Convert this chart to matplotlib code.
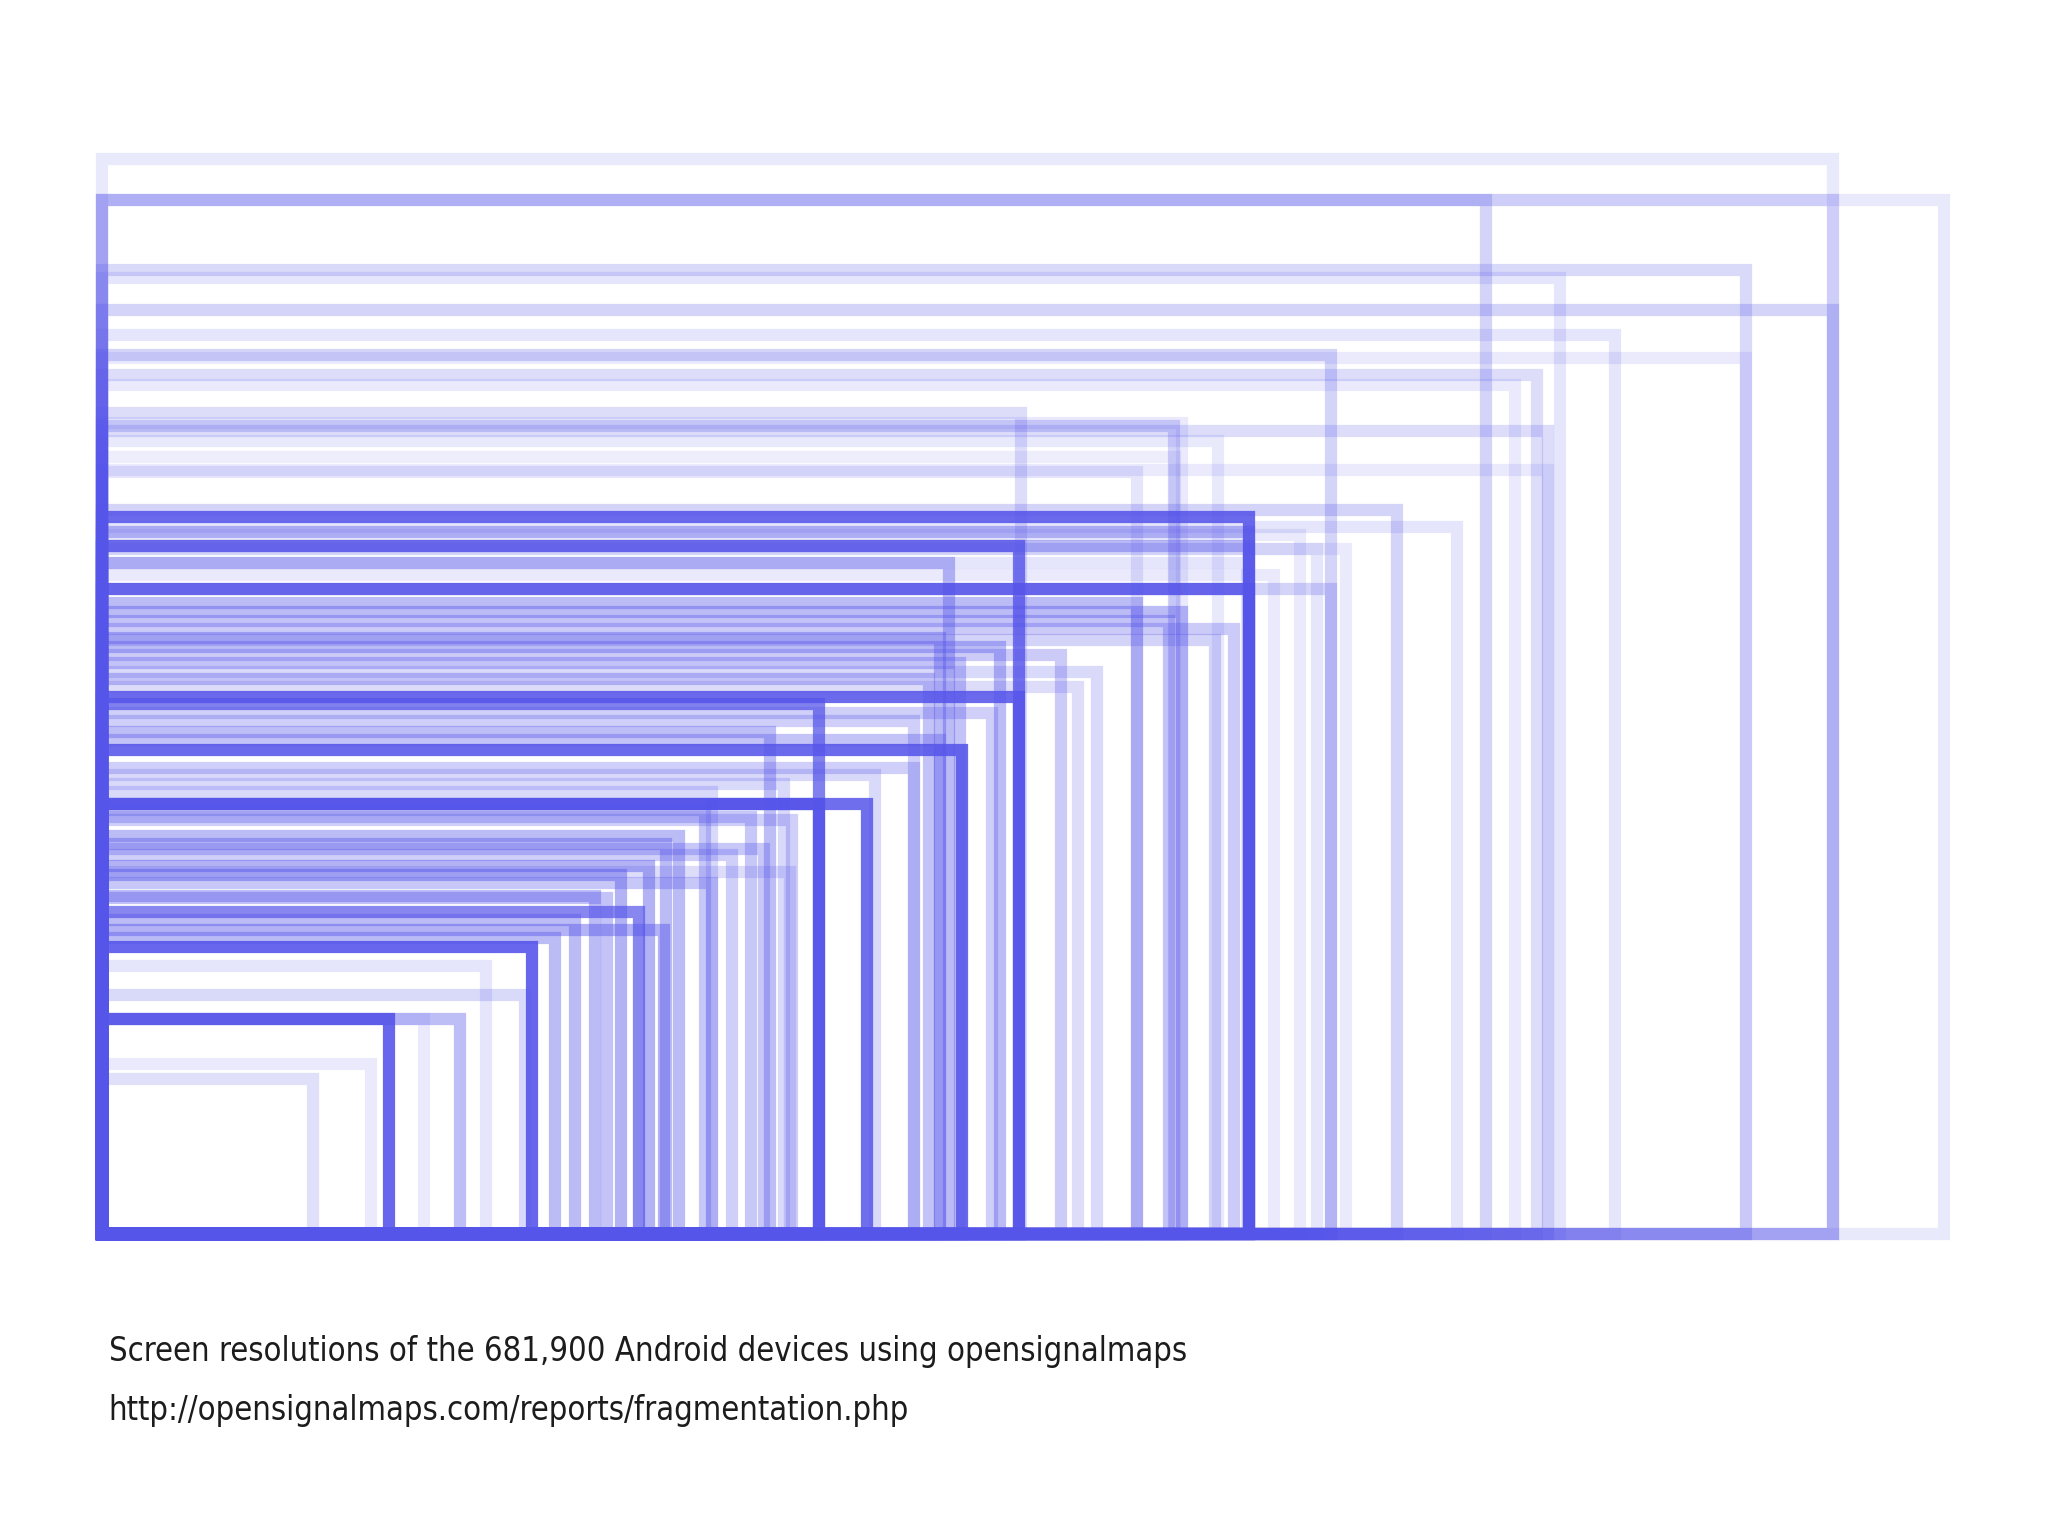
"""Screen resolution fragmentation

Draws every Android screen resolution as an outline anchored at the
bottom left corner; the more devices use a resolution, the more opaque
its outline.
"""

import matplotlib
matplotlib.use("Agg")
import matplotlib.pyplot as plt
from matplotlib.patches import Rectangle


# landscape screen sizes in pixels
widths = [
    1932, 2056, 1932, 1545, 1835, 1628, 1932, 1689, 1835, 1372,
    1602, 1577, 1026, 1197, 1614, 1246, 1206, 1614, 1155, 1446,
    1512, 1280, 1280, 1024, 1280, 946, 1278, 1280, 1372, 1155,
    1206, 1191, 1264, 936, 1242, 1003, 1070, 958, 1111, 923,
    1089, 1024, 800, 994, 907, 746, 936, 960, 907, 863,
    761, 681, 800, 854, 644, 630, 739, 703, 611, 579,
    681, 550, 600, 528, 627, 506, 564, 768, 480, 429,
    472, 400, 320, 360, 300, 236, 1308, 1337, 1356, 1389,
    673, 724, 770, 1198,
]
heights = [
    1200, 1154, 1154, 1154, 1076, 1067, 1032, 1004, 978, 981,
    959, 948, 917, 902, 896, 885, 905, 853, 851, 808,
    789, 800, 784, 768, 768, 749, 749, 720, 720, 704,
    695, 684, 675, 666, 663, 655, 646, 637, 628, 620,
    611, 600, 592, 582, 573, 561, 552, 540, 520, 512,
    503, 494, 480, 480, 445, 436, 430, 423, 411, 401,
    392, 378, 360, 351, 340, 331, 375, 404, 320, 299,
    267, 240, 240, 240, 190, 173, 736, 780, 765, 765,
    474, 466, 462, 867,
]
# relative share of devices, drawn as outline opacity
share = [
    0.13, 0.13, 0.18, 0.25, 0.22, 0.15, 0.25, 0.15, 0.12, 0.25,
    0.20, 0.12, 0.20, 0.25, 0.20, 0.13, 0.12, 0.12, 0.15, 0.25,
    0.15, 0.88, 0.40, 0.80, 0.40, 0.40, 0.15, 0.88, 0.25, 0.40,
    0.40, 0.35, 0.30, 0.40, 0.25, 0.40, 0.30, 0.35, 0.22, 0.35,
    0.20, 0.88, 0.75, 0.28, 0.28, 0.38, 0.35, 0.88, 0.28, 0.22,
    0.22, 0.22, 0.90, 0.85, 0.40, 0.40, 0.32, 0.28, 0.45, 0.45,
    0.32, 0.40, 0.70, 0.40, 0.45, 0.40, 0.35, 0.20, 0.90, 0.15,
    0.22, 0.38, 0.90, 0.12, 0.12, 0.18, 0.12, 0.12, 0.15, 0.12,
    0.32, 0.32, 0.28, 0.10,
]

caption = [
    "Screen resolutions of the 681,900 Android devices using opensignalmaps",
    "http://opensignalmaps.com/reports/fragmentation.php",
]


def main():
    fig = plt.figure(figsize=(20.48, 15.36), dpi=100)
    ax = fig.add_axes([0, 0, 1, 1])

    # one outline per resolution, all sharing the bottom left corner
    for w, h, a in zip(widths, heights, share):
        ax.add_patch(Rectangle((0, 0), w, h, fill=False,
                               edgecolor="#5655ea", alpha=a,
                               linewidth=8.8, joinstyle="miter"))

    ax.set_xlim(-113.7, 2172.2)
    ax.set_ylim(-336.9, 1377.6)
    ax.axis("off")

    # caption under the chart, condensed face if one is installed
    for y, line in zip([0.1139, 0.0758], caption):
        fig.text(0.053, y, line, color="#1c1c1c", fontsize=23.5,
                 fontstretch="condensed", fontweight="medium",
                 family=["DejaVu Sans", "Liberation Sans"])

    fig.savefig("out.png", dpi=100, facecolor="white")


if __name__ == "__main__":
    main()
